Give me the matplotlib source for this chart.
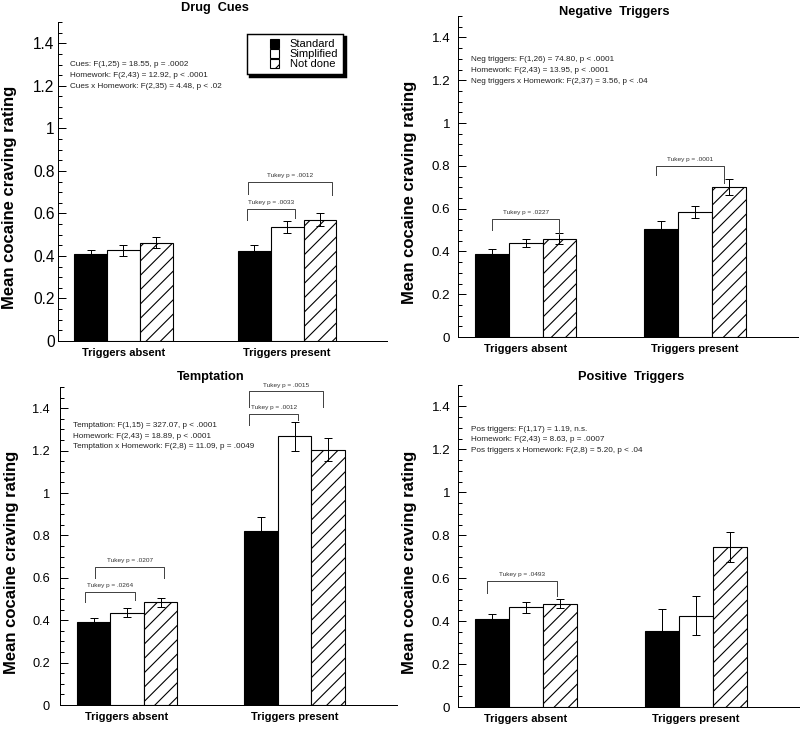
import matplotlib
matplotlib.use('Agg')
import matplotlib.pyplot as plt
import matplotlib.patches as mpatches
from matplotlib.legend_handler import HandlerPatch
from matplotlib.ticker import MultipleLocator
import numpy as np

plt.rcParams['font.family'] = ['Liberation Sans', 'DejaVu Sans']

groups = ['Triggers absent', 'Triggers present']
homework = ['Standard', 'Simplified', 'Not done']
titles = ['Drug  Cues', 'Negative  Triggers', 'Temptation', 'Positive  Triggers']

# means [absent, present] x [standard, simplified, not done]
cues_mean = [[0.408, 0.427, 0.463], [0.421, 0.534, 0.571]]
cues_err = [[0.022, 0.025, 0.027], [0.030, 0.028, 0.030]]
neg_mean = [[0.390, 0.439, 0.460], [0.507, 0.584, 0.699]]
neg_err = [[0.022, 0.020, 0.024], [0.033, 0.030, 0.037]]
temp_mean = [[0.392, 0.436, 0.484], [0.819, 1.267, 1.204]]
temp_err = [[0.020, 0.021, 0.022], [0.066, 0.070, 0.054]]
pos_mean = [[0.411, 0.464, 0.482], [0.356, 0.426, 0.744]]
pos_err = [[0.020, 0.025, 0.022], [0.100, 0.092, 0.070]]

cues_stats = ['Cues: F(1,25) = 18.55, p = .0002',
              'Homework: F(2,43) = 12.92, p < .0001',
              'Cues x Homework: F(2,35) = 4.48, p < .02']
neg_stats = ['Neg triggers: F(1,26) = 74.80, p < .0001',
             'Homework: F(2,43) = 13.95, p < .0001',
             'Neg triggers x Homework: F(2,37) = 3.56, p < .04']
temp_stats = ['Temptation: F(1,15) = 327.07, p < .0001',
              'Homework: F(2,43) = 18.89, p < .0001',
              'Temptation x Homework: F(2,8) = 11.09, p = .0049']
pos_stats = ['Pos triggers: F(1,17) = 1.19, n.s.',
             'Homework: F(2,43) = 8.63, p = .0007',
             'Pos triggers x Homework: F(2,8) = 5.20, p < .04']

# brackets: (group, bar_from, bar_to, label)
cues_tukey = [(1, 0, 1, 'Tukey p = .0033'), (1, 0, 2, 'Tukey p = .0012')]
neg_tukey = [(0, 0, 2, 'Tukey p = .0227'), (1, 0, 2, 'Tukey p = .0001')]
temp_tukey = [(0, 0, 1, 'Tukey p = .0264'), (0, 0, 2, 'Tukey p = .0207'),
              (1, 0, 1, 'Tukey p = .0012'), (1, 0, 2, 'Tukey p = .0015')]
pos_tukey = [(0, 0, 2, 'Tukey p = .0493')]

# bracket geometry (layout only): offsets in bar widths, top, leg ends
cues_brk = [(-0.22, 0.25, 0.623, 0.568, 0.580), (-0.19, 0.37, 0.747, 0.689, 0.686)]
neg_brk = [(0.0, 0.0, 0.551, 0.500, 0.480), (-0.15, -0.13, 0.800, 0.757, 0.720)]
temp_brk = [(-0.25, 0.24, 0.534, 0.485, 0.495), (0.05, 0.10, 0.651, 0.600, 0.600),
            (-0.35, 0.10, 1.374, 1.322, 1.345), (-0.35, -0.16, 1.479, 1.408, 1.408)]
pos_brk = [(-0.15, -0.10, 0.586, 0.532, 0.516)]

# layout: axes box in pixels (left, top, right, bottom), title centre,
# stats y, tick label size, tick pad
panels = [
    (cues_mean, cues_err, cues_stats, cues_tukey, cues_brk,
     [58, 22, 387, 341], (215, 8), 1.298, 14, 3),
    (neg_mean, neg_err, neg_stats, neg_tukey, neg_brk,
     [458, 16, 798, 337], (614, 12), 1.296, 12, 7),
    (temp_mean, temp_err, temp_stats, temp_tukey, temp_brk,
     [60, 387, 397, 705], (211, 377), 1.317, 11.5, 9),
    (pos_mean, pos_err, pos_stats, pos_tukey, pos_brk,
     [458, 385, 800, 707], (631, 377), 1.294, 12, 7),
]

W, H = 800, 729
DPI = 86
S = 80 / DPI  # sizes below are tuned in 80-dpi points
fig = plt.figure(figsize=(W / DPI, H / DPI), dpi=DPI)
plt.rcParams['hatch.linewidth'] = 1.0 * S

bw = 0.2
faces = ['black', 'white', 'white']
hatches = [None, None, '//']


def small_square(legend, orig_handle, xdescent, ydescent, width, height, fontsize):
    s = height
    return mpatches.Rectangle((-xdescent + width - s, -ydescent), s, s)


for p, (mean, err, stats, tukey, brk, box, tpos, stat_y, tsize, tpad) in enumerate(panels):
    l, t, r, b = box
    ax = fig.add_axes([l / W, (H - b) / H, (r - l) / W, (b - t) / H])
    mean = np.array(mean)
    err = np.array(err)
    x = np.arange(len(groups))
    for k in range(3):
        ax.bar(x + (k - 1) * bw, mean[:, k], bw, color=faces[k],
               edgecolor='black', linewidth=1.0 * S, hatch=hatches[k],
               zorder=2)
        ax.errorbar(x + (k - 1) * bw, mean[:, k], yerr=err[:, k], fmt='none',
                    ecolor='black', elinewidth=0.9 * S, capsize=3.8 * S,
                    capthick=0.9 * S, zorder=3)

    for (g, i, j, lab), (dl, dr, top, yl, yr) in zip(tukey, brk):
        xl = g + (i - 1) * bw + dl * bw
        xr = g + (j - 1) * bw + dr * bw
        ax.plot([xl, xl, xr, xr], [yl, top, top, yr], color='#444444',
                lw=0.9 * S, zorder=4, clip_on=False)
        ax.text((xl + xr) / 2, top + 0.018, lab, ha='center', va='bottom',
                fontsize=5.8 * S, color='#333333', clip_on=False)

    for n, s in enumerate(stats):
        ax.text(-0.325, stat_y - 0.05 * n, s, ha='left', va='center',
                fontsize=7.3 * S, color='#222222')

    ax.set_xlim(-0.40, 1.61)
    ax.set_ylim(0, 1.5)
    ax.set_xticks(x)
    ax.set_xticklabels(groups, fontweight='bold', fontsize=10 * S)
    ax.tick_params(axis='x', length=0, pad=6 * S)
    ax.yaxis.set_minor_locator(MultipleLocator(0.05))
    ax.set_yticks([0, 0.2, 0.4, 0.6, 0.8, 1, 1.2, 1.4])
    ax.set_yticklabels(['0', '0.2', '0.4', '0.6', '0.8', '1', '1.2', '1.4'])
    ax.tick_params(axis='y', which='major', direction='in', length=7 * S,
                   width=0.9 * S, labelsize=tsize * S, pad=tpad * S)
    ax.tick_params(axis='y', which='minor', direction='in', length=4 * S,
                   width=0.9 * S)
    for side in ['top', 'right']:
        ax.spines[side].set_visible(False)
    ax.spines['left'].set_linewidth(0.9 * S)
    ax.spines['bottom'].set_linewidth(0.9 * S)
    ax.set_ylabel('Mean cocaine craving rating', fontsize=15 * S,
                  fontweight='bold')
    ax.yaxis.set_label_coords(-41 / (r - l), 0.45)
    fig.text(tpos[0] / W, 1 - tpos[1] / H, titles[p], ha='center',
             va='center', fontsize=11.5 * S, fontweight='bold')

    if p == 0:
        handles = [mpatches.Rectangle((0, 0), 1, 1, facecolor=faces[k],
                                      edgecolor='black', hatch=hatches[k],
                                      linewidth=1.0 * S, label=homework[k])
                   for k in range(3)]
        ax.legend(handles=handles, loc='upper left',
                  bbox_to_anchor=((247 - l) / (r - l), (b - 34) / (b - t)),
                  fontsize=10 * S, frameon=True, fancybox=False,
                  edgecolor='black', framealpha=1,
                  shadow={'color': 'black', 'alpha': 1},
                  handler_map={mpatches.Rectangle: HandlerPatch(patch_func=small_square)},
                  handlelength=2.4, handleheight=0.8, handletextpad=1.0,
                  labelspacing=0.0, borderpad=0.45, borderaxespad=0)
        ax.get_legend().get_frame().set_linewidth(1.3 * S)

fig.savefig('out.png', dpi=DPI)
